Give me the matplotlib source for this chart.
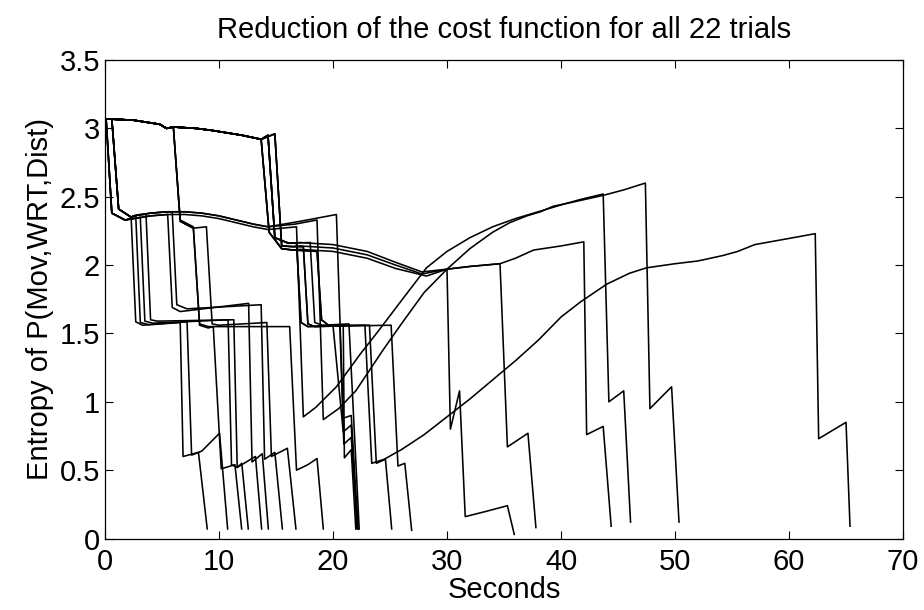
import matplotlib
matplotlib.use("Agg")
import matplotlib.pyplot as plt

plt.rcParams['font.family'] = ['Liberation Sans', 'DejaVu Sans']

# path pieces, (seconds, entropy)
top = [(0.0, 3.07), (2.5, 3.06), (4.8, 3.03), (5.4, 3.00), (6.0, 3.01),
       (8.0, 3.00), (9.4, 2.985), (12.0, 2.95), (13.7, 2.92)]
start_a = [(0.0, 3.07), (0.1, 3.07), (0.6, 2.38), (1.75, 2.33)]
start_b = [(0.0, 3.07), (0.6, 3.07), (1.2, 2.41), (2.3, 2.35)]
s_upper = [(2.5, 2.36), (4.0, 2.38), (5.5, 2.39), (7.0, 2.39), (8.5, 2.38),
           (10.0, 2.36), (11.5, 2.33), (13.0, 2.30), (14.3, 2.28)]
s_lower = [(2.5, 2.34), (4.0, 2.36), (5.5, 2.37), (7.0, 2.37), (8.5, 2.36),
           (10.0, 2.34), (11.5, 2.31), (13.0, 2.28), (14.3, 2.26)]
m_start_a = top + [(14.3, 2.95), (14.9, 2.20), (16.1, 2.16)]
m_start_b = top + [(14.9, 2.96), (15.5, 2.14), (16.5, 2.135)]
m_start_c = top + [(14.4, 2.24), (15.5, 2.12), (16.5, 2.11)]
m_a = [(17.1, 2.165), (20.0, 2.15), (23.0, 2.10), (25.5, 2.02), (27.8, 1.95)]
m_b = [(17.1, 2.14), (20.0, 2.125), (23.0, 2.075), (25.5, 2.00), (27.8, 1.935)]
m_c = [(17.1, 2.115), (20.0, 2.10), (23.0, 2.05), (25.5, 1.975), (28.2, 1.92)]
rise_1 = [(17.4, 0.89), (18.5, 0.96), (20.3, 1.11), (22.4, 1.35), (24.0, 1.52),
          (26.0, 1.74), (28.2, 1.98), (30.0, 2.10), (32.0, 2.20), (34.0, 2.28),
          (36.0, 2.34), (38.0, 2.39), (40.0, 2.44), (41.7, 2.48), (43.7, 2.52)]
rise_2 = [(19.15, 0.87), (20.5, 0.95), (22.0, 1.08), (24.4, 1.38), (26.0, 1.57),
          (28.0, 1.80), (30.0, 1.97), (32.0, 2.12), (34.0, 2.24), (35.5, 2.31),
          (37.0, 2.36), (38.2, 2.39), (39.3, 2.43), (41.0, 2.46), (43.7, 2.51),
          (45.5, 2.55), (47.4, 2.60)]
rise_3 = [(23.4, 0.55), (24.5, 0.58), (26.0, 0.65), (28.0, 0.76), (30.0, 0.89),
          (32.0, 1.02), (34.0, 1.16), (36.0, 1.30), (38.0, 1.45), (40.0, 1.62),
          (41.7, 1.73), (44.0, 1.86), (46.0, 1.94), (47.5, 1.98), (50.0, 2.01),
          (52.0, 2.03), (54.2, 2.07), (55.5, 2.10), (57.0, 2.15), (59.0, 2.18),
          (61.0, 2.21), (62.3, 2.23)]

# the 22 trials
t01 = start_a + [(2.3, 2.34), (2.7, 1.585), (3.3, 1.56), (6.6, 1.58), (6.85, 0.60), (8.2, 0.63), (8.97, 0.07)]
t02 = start_b + [(2.7, 2.36), (3.1, 1.58), (3.8, 1.565), (7.2, 1.585), (7.6, 0.61), (8.5, 0.64), (10.05, 0.77), (10.76, 0.07)]
t03 = top[:5] + [(6.6, 2.32), (7.75, 2.27), (8.3, 1.56), (9.06, 1.54), (9.5, 1.55), (10.2, 0.51), (11.4, 0.54), (11.99, 0.07)]
t04 = start_a + [(2.5, 2.34), (3.1, 2.35), (3.5, 1.59), (4.2, 1.575), (10.8, 1.60), (11.1, 0.54), (11.6, 0.52), (12.0, 0.55), (12.57, 0.07)]
t05 = start_b + [(3.0, 2.37), (3.6, 2.37), (4.0, 1.60), (4.6, 1.59), (11.3, 1.60), (11.6, 0.52), (12.4, 0.56), (13.2, 0.60), (13.74, 0.07)]
t06 = start_a + s_lower[:3] + [(5.9, 1.69), (6.6, 1.66), (12.6, 1.72), (12.9, 0.56), (13.8, 0.62), (14.33, 0.07)]
t07 = start_b + s_upper[:3] + [(5.9, 2.39), (6.3, 1.71), (7.2, 1.68), (13.7, 1.71), (14.0, 0.58), (14.9, 0.63), (15.56, 0.07)]
t08 = top[:5] + [(6.6, 2.32), (7.75, 2.27), (8.9, 2.28), (9.4, 1.57), (10.0, 1.56), (14.2, 1.58), (14.6, 0.60), (16.0, 0.66), (16.75, 0.07)]
t09 = top[:5] + [(6.6, 2.33), (7.75, 2.28), (8.3, 1.57), (9.06, 1.55), (16.2, 1.55), (16.8, 0.50), (17.8, 0.54), (18.6, 0.585), (19.15, 0.07)]
t10 = start_a + s_lower + [(16.8, 2.28)] + rise_1 + [(44.2, 1.00), (45.5, 1.08), (46.1, 0.12)]
t11 = start_b + s_upper + [(16.7, 2.30), (18.6, 2.33)] + rise_2 + [(47.8, 0.95), (49.7, 1.11), (50.35, 0.12)]
t12 = start_b + s_upper + [(17.1, 2.32), (20.3, 2.37), (20.9, 0.88), (21.6, 0.90), (22.2, 0.07)]
t13 = m_start_a + m_a + [(30.0, 1.97), (30.3, 0.80), (31.1, 1.08), (31.6, 0.16), (33.5, 0.20), (35.3, 0.24), (35.9, 0.03)]
t14 = m_start_b + m_b + [(30.0, 1.97), (32.0, 1.99), (34.65, 2.01), (35.3, 0.67), (37.1, 0.77), (37.8, 0.08)]
t15 = m_start_c + m_c + [(30.0, 1.97), (32.0, 1.99), (34.65, 2.01), (36.0, 2.05), (37.6, 2.11), (40.0, 2.14), (42.0, 2.17), (42.25, 0.76), (43.7, 0.82), (44.4, 0.09)]
t16 = m_start_a + [(16.8, 2.16), (17.2, 1.58), (17.8, 1.55), (20.0, 1.56), (20.9, 0.78), (21.6, 0.83), (22.1, 0.07)]
t17 = m_start_b + [(17.4, 2.135), (17.8, 1.57), (18.4, 1.55), (20.6, 1.56), (20.95, 0.69), (21.6, 0.74), (22.2, 0.07)]
t18 = m_start_c + [(18.6, 2.10), (19.0, 1.60), (19.6, 1.56), (20.9, 1.56), (21.0, 0.59), (21.6, 0.65), (22.0, 0.07)]
t19 = m_start_a + [(18.0, 2.165), (18.4, 1.58), (19.1, 1.56), (21.4, 1.57), (22.3, 0.07)]
t20 = m_start_b + [(17.4, 2.135), (17.8, 1.57), (18.4, 1.55), (22.8, 1.56)] + rise_3 + [(62.6, 0.73), (65.0, 0.85), (65.35, 0.09)]
t21 = m_start_c + [(18.6, 2.10), (19.0, 1.60), (19.6, 1.56), (23.2, 1.56), (23.8, 0.55), (24.6, 0.58), (25.15, 0.07)]
t22 = m_start_a + [(16.8, 2.16), (17.2, 1.58), (17.8, 1.55), (25.1, 1.56), (25.7, 0.53), (26.3, 0.55), (26.9, 0.06)]

trials = [t01, t02, t03, t04, t05, t06, t07, t08, t09, t10, t11,
          t12, t13, t14, t15, t16, t17, t18, t19, t20, t21, t22]

x_ticks = [0, 10, 20, 30, 40, 50, 60, 70]
y_ticks = [0, 0.5, 1, 1.5, 2, 2.5, 3, 3.5]
y_labels = ["0", "0.5", "1", "1.5", "2", "2.5", "3", "3.5"]

fig = plt.figure(figsize=(9.24, 6.10), dpi=100)
ax = fig.add_axes([0.1136, 0.1172, 0.8637, 0.7844])

for t in trials:
    ax.plot([p[0] for p in t], [p[1] for p in t], color="black", lw=1.15)

ax.set_xlim(0, 70)
ax.set_ylim(0, 3.5)
ax.set_xticks(x_ticks)
ax.set_yticks(y_ticks)
ax.set_yticklabels(y_labels)
ax.tick_params(direction="in", top=True, right=True, labelsize=21, length=6, width=0.8)
ax.tick_params(axis="x", pad=7)
for s in ax.spines.values():
    s.set_linewidth(0.9)

ax.set_xlabel("Seconds", fontsize=21, labelpad=0)
ax.set_ylabel("Entropy of P(Mov,WRT,Dist)", fontsize=21)
ax.set_title("Reduction of the cost function for all 22 trials", fontsize=21, pad=16)

fig.savefig("out.png", dpi=100)
